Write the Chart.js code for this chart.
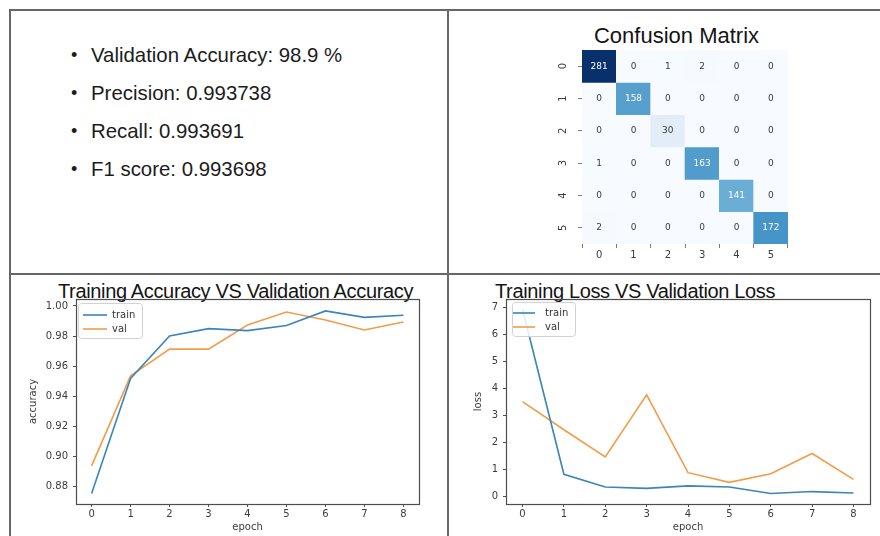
<!DOCTYPE html>
<html>
<head>
<meta charset="utf-8">
<script src="https://cdn.jsdelivr.net/npm/chart.js@4/dist/chart.umd.min.js"></script>
<style>
  html, body { margin: 0; padding: 0; background: #fff; }
  body { width: 880px; height: 536px; position: relative; overflow: hidden;
         font-family: "Liberation Sans", Arial, sans-serif; }
  .rule { position: absolute; background: #676767; }
  canvas { position: absolute; }
  .stat { position: absolute; left: 91px; font-size: 20.4px; line-height: 20px; color: #1c1c1c; white-space: nowrap; }
  .stat::before { content: "\2022"; position: absolute; left: -20px; font-size: 18px; }
  .panel-title { position: absolute; font-size: 20px; line-height: 20px; color: #141414;
                 white-space: nowrap; letter-spacing: -0.35px; }
</style>
</head>
<body>

<!-- table rules around the four panels -->
<div class="rule" style="left:9px;top:9px;width:2px;height:527px"></div>
<div class="rule" style="left:9px;top:9px;width:871px;height:2px"></div>
<div class="rule" style="left:447px;top:9px;width:2px;height:527px"></div>
<div class="rule" style="left:9px;top:273px;width:871px;height:2px"></div>

<!-- summary metrics -->
<div class="stat" style="top:45px">Validation Accuracy: 98.9 %</div>
<div class="stat" style="top:83px">Precision: 0.993738</div>
<div class="stat" style="top:121px">Recall: 0.993691</div>
<div class="stat" style="top:159px">F1 score: 0.993698</div>

<div class="panel-title" style="left:676.5px;top:24.5px;font-size:22px;line-height:22px;letter-spacing:0;transform:translateX(-50%)">Confusion Matrix</div>
<div class="panel-title" style="left:58px;top:281px">Training Accuracy VS Validation Accuracy</div>
<div class="panel-title" style="left:495px;top:281px">Training Loss VS Validation Loss</div>

<canvas id="cm" width="260" height="226" style="left:540px;top:46px"></canvas>
<canvas id="acc" width="434" height="260" style="left:12px;top:276px"></canvas>
<canvas id="loss" width="430" height="260" style="left:450px;top:276px"></canvas>

<script>
// ---- data ----
const classLabels = ['0', '1', '2', '3', '4', '5'];
const confusion = [
  [281,   0,  1,   2,   0,   0],
  [  0, 158,  0,   0,   0,   0],
  [  0,   0, 30,   0,   0,   0],
  [  1,   0,  0, 163,   0,   0],
  [  0,   0,  0,   0, 141,   0],
  [  2,   0,  0,   0,   0, 172]
];

const epochs = [0, 1, 2, 3, 4, 5, 6, 7, 8];
const trainAccuracy = [0.8755, 0.9518, 0.9800, 0.9849, 0.9836, 0.9870, 0.9967, 0.9924, 0.9938];
const valAccuracy   = [0.8938, 0.9536, 0.9713, 0.9713, 0.9873, 0.9960, 0.9907, 0.9840, 0.9893];
const trainLoss = [6.94, 0.83, 0.36, 0.31, 0.40, 0.36, 0.12, 0.19, 0.14];
const valLoss   = [3.52, 2.48, 1.47, 3.77, 0.89, 0.53, 0.85, 1.60, 0.64];

const accuracyTicks = [0.88, 0.90, 0.92, 0.94, 0.96, 0.98, 1.00];
const lossTicks = [0, 1, 2, 3, 4, 5, 6, 7];

// ---- styling helpers ----
const TRAIN_COLOR = '#3a85ba';
const VAL_COLOR = '#f39c48';
const TICK_COLOR = '#3c3c3c';
Chart.defaults.font.family = '"DejaVu Sans", sans-serif';
Chart.defaults.color = TICK_COLOR;

// matplotlib "Blues" colour map
const BLUES = ['#f7fbff', '#deebf7', '#c6dbef', '#9ecae1', '#6baed6', '#4292c6', '#2171b5', '#08519c', '#08306b'];
function hexToRgb(h) { return [1, 3, 5].map(i => parseInt(h.slice(i, i + 2), 16)); }
function blues(t) {
  t = Math.max(0, Math.min(1, t));
  const pos = t * (BLUES.length - 1);
  const i = Math.min(BLUES.length - 2, Math.floor(pos));
  const f = pos - i;
  const a = hexToRgb(BLUES[i]), b = hexToRgb(BLUES[i + 1]);
  const c = a.map((v, k) => Math.round(v + (b[k] - v) * f));
  return 'rgb(' + c.join(',') + ')';
}
function luminance(rgbStr) {
  const c = rgbStr.match(/\d+/g).map(Number).map(v => {
    v /= 255;
    return v <= 0.03928 ? v / 12.92 : Math.pow((v + 0.055) / 1.055, 2.4);
  });
  return 0.2126 * c[0] + 0.7152 * c[1] + 0.0722 * c[2];
}

// box around the plotting area
const frame = {
  id: 'frame',
  afterDraw(chart) {
    const a = chart.chartArea, ctx = chart.ctx;
    ctx.save();
    ctx.strokeStyle = '#4d4d4d';
    ctx.lineWidth = 1.2;
    ctx.strokeRect(Math.round(a.left) + 0.5, Math.round(a.top) + 0.5,
                   Math.round(a.right - a.left), Math.round(a.bottom - a.top));
    ctx.restore();
  }
};

// legend box placed inside the upper-left corner of the plot
const cornerLegend = {
  id: 'cornerLegend',
  afterDatasetsDraw(chart, args, opts) {
    if (!opts || !opts.box) return;
    const a = chart.chartArea, ctx = chart.ctx, b = opts.box;
    const x = a.left + b.x, y = a.top + b.y;
    ctx.save();
    ctx.fillStyle = 'rgba(255,255,255,0.85)';
    ctx.strokeStyle = '#d2d2d2';
    ctx.lineWidth = 1;
    ctx.beginPath();
    ctx.roundRect(x + 0.5, y + 0.5, b.w, b.h, 3);
    ctx.fill();
    ctx.stroke();
    ctx.font = '10px "DejaVu Sans", sans-serif';
    ctx.textBaseline = 'middle';
    chart.data.datasets.forEach((ds, i) => {
      const ly = a.top + opts.rows[i];
      ctx.strokeStyle = ds.borderColor;
      ctx.lineWidth = 1.6;
      ctx.beginPath();
      ctx.moveTo(a.left + opts.line[0], ly);
      ctx.lineTo(a.left + opts.line[1], ly);
      ctx.stroke();
      ctx.fillStyle = '#333';
      ctx.fillText(ds.label, a.left + opts.textX, ly);
    });
    ctx.restore();
  }
};

function fixedTicks(values) {
  return function (scale) { scale.ticks = values.map(v => ({ value: v })); };
}

function curveChart(id, cfg) {
  return new Chart(document.getElementById(id), {
    type: 'line',
    data: {
      datasets: [
        { label: 'train', data: epochs.map((e, i) => ({ x: e, y: cfg.train[i] })),
          borderColor: TRAIN_COLOR, borderWidth: 1.6, pointRadius: 0, tension: 0 },
        { label: 'val', data: epochs.map((e, i) => ({ x: e, y: cfg.val[i] })),
          borderColor: VAL_COLOR, borderWidth: 1.6, pointRadius: 0, tension: 0 }
      ]
    },
    options: {
      responsive: false,
      animation: false,
      layout: { padding: { left: 0, top: 23, right: cfg.padRight, bottom: 0 } },
      plugins: {
        legend: { display: false },
        tooltip: { enabled: false },
        cornerLegend: cfg.legend
      },
      scales: {
        x: {
          type: 'linear', min: -0.4, max: 8.4,
          afterBuildTicks: fixedTicks(epochs),
          afterFit(s) { s.height = 32; },
          border: { display: false },
          grid: { drawOnChartArea: false, tickLength: 3, tickColor: '#4d4d4d' },
          ticks: { padding: 1, font: { size: 10 }, color: TICK_COLOR, callback: v => String(v) },
          title: { display: true, text: 'epoch', font: { size: 10 }, color: TICK_COLOR, padding: { top: 0, bottom: 3 } }
        },
        y: {
          type: 'linear', min: cfg.yMin, max: cfg.yMax,
          afterBuildTicks: fixedTicks(cfg.ticks),
          afterFit(s) { s.width = cfg.yWidth; },
          border: { display: false },
          grid: { drawOnChartArea: false, tickLength: 3, tickColor: '#4d4d4d' },
          ticks: { padding: 5, font: { size: 10 }, color: TICK_COLOR, callback: cfg.fmt },
          title: { display: true, text: cfg.yTitle, font: { size: 10 }, color: TICK_COLOR, padding: { top: cfg.yTitlePad, bottom: 0 } }
        }
      }
    },
    plugins: [frame, cornerLegend]
  });
}

curveChart('acc', {
  train: trainAccuracy, val: valAccuracy,
  yMin: 0.8685, yMax: 1.0046, ticks: accuracyTicks, fmt: v => v.toFixed(2),
  yTitle: 'accuracy', yTitlePad: 15, yWidth: 64, padRight: 27,
  legend: { box: { x: 2, y: 4, w: 64, h: 35 }, rows: [16, 30], line: [7, 31], textX: 36 }
});

curveChart('loss', {
  train: trainLoss, val: valLoss,
  yMin: -0.27, yMax: 7.32, ticks: lossTicks, fmt: v => String(v),
  yTitle: 'loss', yTitlePad: 22, yWidth: 56, padRight: 10,
  legend: { box: { x: 6, y: 3, w: 63, h: 34 }, rows: [14, 28], line: [7, 29], textX: 39 }
});

// ---- confusion matrix heat map: one floating-bar dataset per true class ----
const vmax = Math.max(...confusion.flat());
const cellColors = confusion.map(row => row.map(v => blues(v / vmax)));

const cellText = {
  id: 'cellText',
  afterDatasetsDraw(chart) {
    const ctx = chart.ctx, xs = chart.scales.x, ys = chart.scales.y;
    ctx.save();
    ctx.font = '9px "DejaVu Sans", sans-serif';
    ctx.textAlign = 'center';
    ctx.textBaseline = 'middle';
    confusion.forEach((row, r) => row.forEach((v, c) => {
      ctx.fillStyle = luminance(cellColors[r][c]) > 0.408 ? '#3a3a3a' : '#ffffff';
      ctx.fillText(String(v), xs.getPixelForValue(c), ys.getPixelForValue(r + 0.5));
    }));
    // row labels, turned on their side
    ctx.font = '10px "DejaVu Sans", sans-serif';
    ctx.fillStyle = TICK_COLOR;
    classLabels.forEach((lab, r) => {
      ctx.save();
      ctx.translate(chart.chartArea.left - 19, ys.getPixelForValue(r + 0.5));
      ctx.rotate(-Math.PI / 2);
      ctx.fillText(lab, 0, 0);
      ctx.restore();
    });
    ctx.restore();
  }
};

new Chart(document.getElementById('cm'), {
  type: 'bar',
  data: {
    labels: classLabels,
    datasets: confusion.map((row, r) => ({
      label: classLabels[r],
      data: row.map(() => [r, r + 1]),
      backgroundColor: cellColors[r],
      borderWidth: 0,
      grouped: false,
      barPercentage: 1,
      categoryPercentage: 1
    }))
  },
  options: {
    responsive: false,
    animation: false,
    layout: { padding: { left: 0, top: 4, right: 12, bottom: 0 } },
    plugins: { legend: { display: false }, tooltip: { enabled: false } },
    scales: {
      x: {
        type: 'category',
        afterFit(s) { s.height = 28; },
        border: { display: false },
        grid: { drawOnChartArea: false, tickLength: 4, tickColor: '#7a7a7a' },
        ticks: { padding: 1, font: { size: 10 }, color: TICK_COLOR }
      },
      y: {
        type: 'linear', min: 0, max: classLabels.length, reverse: true,
        afterBuildTicks(s) { s.ticks = classLabels.map((_, i) => ({ value: i + 0.5 })); },
        afterFit(s) { s.width = 42; },
        border: { display: false },
        grid: { drawOnChartArea: false, tickLength: 4, tickColor: '#7a7a7a' },
        ticks: { display: false }
      }
    }
  },
  plugins: [cellText]
});
</script>
</body>
</html>
